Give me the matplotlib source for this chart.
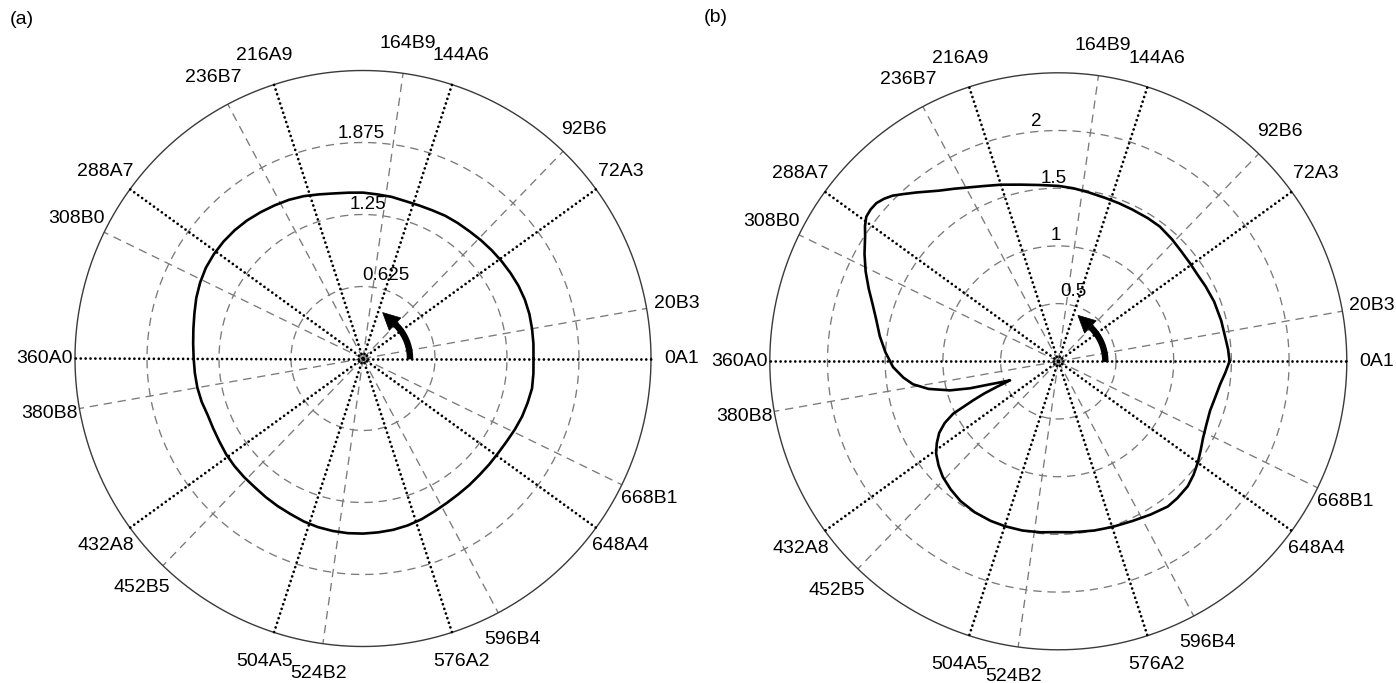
import numpy as np
import matplotlib
matplotlib.use("Agg")
import matplotlib.pyplot as plt
from matplotlib.patches import Polygon

plt.rcParams['font.family'] = ['Liberation Sans', 'DejaVu Sans']
plt.rcParams['lines.scale_dashes'] = False

# Spoke labels: crank angle (deg, over 720) + cylinder code
spoke_a_angles = [0, 72, 144, 216, 288, 360, 432, 504, 576, 648]
spoke_a_labels = ['0A1', '72A3', '144A6', '216A9', '288A7',
                  '360A0', '432A8', '504A5', '576A2', '648A4']
spoke_b_angles = [20, 92, 164, 236, 308, 380, 452, 524, 596, 668]
spoke_b_labels = ['20B3', '92B6', '164B9', '236B7', '308B0',
                  '380B8', '452B5', '524B2', '596B4', '668B1']

r_max = 2.5
rings_a = [0.625, 1.25, 1.875]
ring_labels_a = ['0.625', '1.25', '1.875']
rings_b = [0.5, 1.0, 1.5, 2.0]
ring_labels_b = ['0.5', '1', '1.5', '2']

# Curve (a): polar angle (deg) and magnitude
theta_a = [0, 5, 10, 15, 20, 25, 30, 35, 40, 45, 50, 55, 60, 65, 70, 75, 80,
           85, 90, 95, 100, 105, 110, 115, 120, 125, 130, 135, 140, 145, 150,
           155, 160, 165, 170, 175, 180, 185, 190, 195, 200, 205, 210, 215,
           220, 225, 230, 235, 240, 245, 250, 255, 260, 265, 270, 275, 280,
           285, 290, 295, 300, 305, 310, 315, 320, 325, 330, 335, 340, 345,
           350, 355]
r_a = [1.48, 1.485, 1.49, 1.495, 1.495, 1.49, 1.48, 1.47, 1.46, 1.45, 1.44,
       1.435, 1.43, 1.42, 1.415, 1.415, 1.425, 1.43, 1.44, 1.445, 1.455,
       1.475, 1.50, 1.52, 1.535, 1.55, 1.565, 1.575, 1.58, 1.58, 1.575, 1.56,
       1.54, 1.515, 1.495, 1.48, 1.47, 1.465, 1.46, 1.45, 1.435, 1.435, 1.44,
       1.45, 1.455, 1.458, 1.46, 1.47, 1.48, 1.49, 1.505, 1.515, 1.52, 1.522,
       1.52, 1.515, 1.51, 1.50, 1.485, 1.465, 1.45, 1.44, 1.435, 1.43, 1.43,
       1.432, 1.44, 1.455, 1.47, 1.48, 1.49, 1.485]

# Curve (b)
theta_b = [0, 4, 8, 14, 21, 27, 32, 37, 42, 47, 53, 58, 64, 69, 74, 80, 85,
           90, 96, 102, 108, 113, 117, 121, 125, 130, 133, 135, 137, 139, 141,
           143, 145, 147, 151, 155, 159, 163, 167, 172, 177, 182, 186, 189,
           192, 195, 197, 198.6, 200, 201.5, 202.6, 203.5, 204.6, 206.5,
           208.5, 211, 214, 217, 221, 225, 230, 235, 241, 247, 252, 258, 264,
           269, 275, 282, 288, 295, 301, 307, 311, 316, 320, 324, 328, 332,
           337, 342, 347, 352, 356]
r_b = [1.484, 1.475, 1.462, 1.455, 1.446, 1.432, 1.421, 1.423, 1.43, 1.445,
       1.462, 1.463, 1.463, 1.467, 1.473, 1.488, 1.505, 1.52, 1.536, 1.565,
       1.609, 1.65, 1.692, 1.745, 1.805, 1.91, 1.98, 2.03, 2.065, 2.089,
       2.092, 2.083, 2.045, 1.996, 1.92, 1.842, 1.76, 1.682, 1.62, 1.562,
       1.50, 1.433, 1.35, 1.274, 1.15, 0.973, 0.80, 0.626, 0.53, 0.45, 0.58,
       0.70, 0.81, 1.018, 1.12, 1.204, 1.27, 1.326, 1.375, 1.416, 1.45,
       1.478, 1.495, 1.502, 1.502, 1.499, 1.49, 1.481, 1.487, 1.499, 1.51,
       1.526, 1.55, 1.576, 1.572, 1.559, 1.53, 1.494, 1.455, 1.42, 1.395,
       1.383, 1.395, 1.417, 1.45]

W, H = 1396, 683
fig = plt.figure(figsize=(W / 100, H / 100), dpi=100)

GRAY = '#7a7a7a'
DASH = (0, (6.0, 4.2))
DOT = (0, (0.01, 3.5))


def px_to_polar(dx, dy, scale):
    """Pixel offset from the pole (right, up) -> (theta, r) data coords."""
    return np.arctan2(dy, dx), np.hypot(dx, dy) / scale


def polar_panel(cx, cy, rad_px, rings, ring_labels, th, rr):
    ax = fig.add_axes([(cx - rad_px) / W, (H - cy - rad_px) / H,
                       2 * rad_px / W, 2 * rad_px / H], projection='polar')
    ax.set_ylim(0, r_max)
    ax.axis('off')
    scale = rad_px / r_max
    circ = np.linspace(0, 2 * np.pi, 721)

    # dashed range rings and the small ring at the origin
    for rv in rings:
        ax.plot(circ, np.full_like(circ, rv), color=GRAY, lw=0.95,
                ls=DASH, clip_on=False, zorder=1)
    ax.plot(circ, np.full_like(circ, 0.035), color='#555555', lw=0.9,
            clip_on=False, zorder=1)
    # outer solid ring
    ax.plot(circ, np.full_like(circ, r_max), color='#3a3a3a', lw=1.0,
            clip_on=False, zorder=2)

    # spokes: dotted for bank A, dashed for bank B
    for ang in spoke_a_angles:
        t = np.deg2rad(ang / 2)
        ax.plot([t, t], [0, r_max], color='black', lw=2.0, ls=DOT,
                dash_capstyle='round', clip_on=False, zorder=2)
    for ang in spoke_b_angles:
        t = np.deg2rad(ang / 2)
        ax.plot([t, t], [0, r_max], color=GRAY, lw=0.95, ls=DASH,
                clip_on=False, zorder=1)

    # spoke labels
    for ang, lab in zip(spoke_a_angles + spoke_b_angles,
                        spoke_a_labels + spoke_b_labels):
        ax.text(np.deg2rad(ang / 2), r_max * 1.105, lab, fontsize=14,
                ha='center', va='center', clip_on=False)

    # ring labels
    for rv, lab in zip(rings, ring_labels):
        ax.annotate(lab, xy=(np.deg2rad(99.6), rv), xytext=(8, 9),
                    textcoords='offset points', fontsize=13.5,
                    ha='left', va='center', annotation_clip=False, zorder=4)

    # measured curve
    tt = np.deg2rad(np.r_[th, th[0]])
    rv = np.r_[rr, rr[0]]
    ax.plot(tt, rv, color='black', lw=1.9, solid_joinstyle='round',
            clip_on=False, zorder=3)

    # rotation direction arrow: thick arc shaft plus triangular head
    arc_px, base_deg = 47.0, 47.0
    shaft_t = np.deg2rad(np.linspace(-1, base_deg, 40))
    ax.plot(shaft_t, np.full_like(shaft_t, arc_px / scale), color='black',
            lw=4.6, solid_capstyle='butt', clip_on=False, zorder=5)
    b = np.deg2rad(base_deg)
    bc = np.array([np.cos(b), np.sin(b)]) * arc_px
    nrm = np.array([np.cos(b), np.sin(b)])
    tan = np.array([-np.sin(b), np.cos(b)])
    pts = [bc + 8.5 * nrm, bc - 8.5 * nrm, bc + 17.0 * tan]
    verts = [px_to_polar(p[0], p[1], scale) for p in pts]
    ax.add_patch(Polygon(verts, closed=True, facecolor='black',
                         edgecolor='black', lw=0.5, clip_on=False, zorder=5))
    return ax


polar_panel(363, 358.5, 288, rings_a, ring_labels_a, theta_a, r_a)
polar_panel(1058.3, 361.3, 288.5, rings_b, ring_labels_b, theta_b, r_b)

fig.text(10 / W, 1 - 20 / H, '(a)', fontsize=14, ha='left', va='center')
fig.text(704 / W, 1 - 18 / H, '(b)', fontsize=14, ha='left', va='center')

fig.savefig('out.png', dpi=100, facecolor='white')
